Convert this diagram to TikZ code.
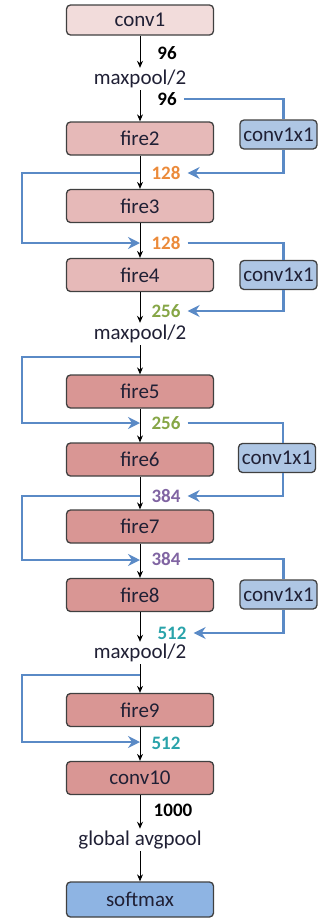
\documentclass[tikz,border=0pt]{standalone}
\usepackage{fontspec}
\setmainfont{Carlito}
\usetikzlibrary{arrows.meta}
\definecolor{txt}{HTML}{202035}
\definecolor{lay0}{HTML}{F2DCDB}
\definecolor{lay1}{HTML}{E6B9B8}
\definecolor{lay2}{HTML}{D99694}
\definecolor{laysm}{HTML}{8EB4E3}
\definecolor{layby}{HTML}{AEC6E4}
\definecolor{skipc}{HTML}{5A8AC6}
\definecolor{c128}{HTML}{EB8A3A}
\definecolor{c256}{HTML}{86A646}
\definecolor{c384}{HTML}{8064A2}
\definecolor{c512}{HTML}{2AA3AA}
\tikzset{
  layer/.style={rectangle,rounded corners=4pt,draw=black!75,line width=1.3pt,
                minimum width=147pt,minimum height=33pt,text=txt,
                font=\fontsize{21}{21}\selectfont},
  bypass/.style={layer,fill=layby,minimum width=77pt,minimum height=29pt},
  pool/.style={text=txt,inner xsep=0pt,inner ysep=2pt,
               font=\fontsize{21}{21}\selectfont},
  num/.style={inner xsep=7pt,inner ysep=0pt,
              font=\fontsize{19}{19}\selectfont\bfseries},
  flow/.style={-{Stealth[length=7pt,width=6pt]},line width=1pt},
  skip/.style={-{Stealth[length=12pt,width=12pt,inset=4pt]},
               line width=2.7pt,draw=skipc},
  skipline/.style={line width=2.7pt,draw=skipc},
}
\begin{document}
\begin{tikzpicture}[x=1pt,y=-1pt]
    \useasboundingbox (0,0) rectangle (320,919);
    % Layers
    \node[layer,fill=lay0,minimum height=30pt] (conv1) at (140,20)    {conv1};
    \node[layer,fill=lay1]                     (fire2) at (140,138.5) {fire2};
    \node[layer,fill=lay1]                     (fire3) at (140,206)   {fire3};
    \node[layer,fill=lay1]                     (fire4) at (140,275)   {fire4};
    \node[layer,fill=lay2]                     (fire5) at (140,391.5) {fire5};
    \node[layer,fill=lay2]                     (fire6) at (140,459.5) {fire6};
    \node[layer,fill=lay2]                     (fire7) at (140,526.5) {fire7};
    \node[layer,fill=lay2]                     (fire8) at (140,595)   {fire8};
    \node[layer,fill=lay2]                     (fire9) at (140,710)   {fire9};
    \node[layer,fill=lay2]                     (conv10) at (140,778)  {conv10};
    \node[layer,fill=laysm,minimum height=35pt] (soft) at (140,899.5) {softmax};

    % Bypass convolutions
    \node[bypass] (byA) at (278.5,134.5) {conv1x1};
    \node[bypass] (byB) at (278.5,275)   {conv1x1};
    \node[bypass] (byC) at (277,458)     {conv1x1};
    \node[bypass] (byD) at (278.5,594.5) {conv1x1};

    % Pooling
    \node[pool] (pool1) at (140,79)  {maxpool/2};
    \node[pool] (pool2) at (140,334) {maxpool/2};
    \node[pool] (pool3) at (140,653) {maxpool/2};
    \node[pool] (gpool) at (140,840) {global avgpool};

    % Channel counts
    \node[num]            (n96a)  at (167,53)  {96};
    \node[num]            (n96b)  at (167,99)  {96};
    \node[num,text=c128]  (n128a) at (166,173) {128};
    \node[num,text=c128]  (n128b) at (166,243) {128};
    \node[num,text=c256]  (n256a) at (166,311) {256};
    \node[num,text=c256]  (n256b) at (166,423) {256};
    \node[num,text=c384]  (n384a) at (166,496) {384};
    \node[num,text=c384]  (n384b) at (166,559) {384};
    \node[num,text=c512]  (n512a) at (172,633) {512};
    \node[num,text=c512]  (n512b) at (166,743) {512};
    \node[num]            (n1000) at (173,810) {1000};

    % Forks and merges on the main path
    \coordinate (fork2)  at (140,173);
    \coordinate (merge3) at (140,243);
    \coordinate (fork5)  at (140,357);
    \coordinate (merge6) at (140,423);
    \coordinate (fork7)  at (140,496);
    \coordinate (merge8) at (140,560);
    \coordinate (fork9)  at (140,675);
    \coordinate (merge10) at (140,742);

    % Main flow
    \draw[flow] (conv1.south) -- (pool1.north);
    \draw[flow] (pool1.south) -- (fire2.north);
    \draw[flow] (fire2.south) -- (fire3.north);
    \draw[flow] (fire3.south) -- (fire4.north);
    \draw[flow] (fire4.south) -- (pool2.north);
    \draw[flow] (pool2.south) -- (fire5.north);
    \draw[flow] (fire5.south) -- (fire6.north);
    \draw[flow] (fire6.south) -- (fire7.north);
    \draw[flow] (fire7.south) -- (fire8.north);
    \draw[flow] (fire8.south) -- (pool3.north);
    \draw[flow] (pool3.south) -- (fire9.north);
    \draw[flow] (fire9.south) -- (conv10.north);
    \draw[flow] (conv10.south) -- (gpool.north);
    \draw[flow] (gpool.south) -- (soft.north);

    % Complex bypass
    \draw[skipline] (n96b.east)  -| ([xshift=5pt]byA.north);
    \draw[skip]     ([xshift=5pt]byA.south) |- (n128a.east);
    \draw[skipline] (n128b.east) -| ([xshift=5pt]byB.north);
    \draw[skip]     ([xshift=5pt]byB.south) |- (n256a.east);
    \draw[skipline] (n256b.east) -| ([xshift=6pt]byC.north);
    \draw[skip]     ([xshift=6pt]byC.south) |- (n384a.east);
    \draw[skipline] (n384b.east) -| ([xshift=5pt]byD.north);
    \draw[skip]     ([xshift=5pt]byD.south) |- (n512a.east);

    % Simple bypass
    \draw[skip] (fork2) -- ++(-118,0) |- (merge3);
    \draw[skip] (fork5) -- ++(-118,0) |- (merge6);
    \draw[skip] (fork7) -- ++(-118,0) |- (merge8);
    \draw[skip] (fork9) -- ++(-118,0) |- (merge10);
\end{tikzpicture}
\end{document}
